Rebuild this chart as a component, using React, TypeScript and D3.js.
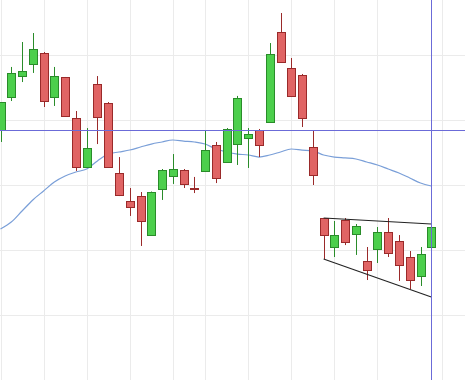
import React from "react";
import * as d3 from "d3";

const W = 465;
const H = 380;

// OHLC values per bar (index = bar number)
const opens = [44.23, 46.77, 48.38, 49.31, 50.15, 46.77, 48.31, 45.15, 41.38, 47.77, 46.31, 40.92, 38.77, 39.15, 36.15, 39.69, 40.69, 41.15, 39.77, 41.08, 43.08, 41.77, 43.15, 43.62, 44.23, 44.85, 51.77, 49.0, 48.46, 42.92, 37.46, 35.23, 37.31, 36.23, 34.15, 35.08, 36.38, 35.69, 34.46, 33.0, 35.23];
const highs = [46.38, 49.08, 51.0, 51.69, 50.23, 49.08, 48.31, 45.69, 44.38, 48.38, 46.38, 42.15, 39.77, 39.46, 39.5, 41.23, 42.38, 41.23, 40.62, 44.23, 43.31, 44.38, 46.85, 44.38, 44.31, 50.92, 53.23, 49.77, 48.54, 44.23, 37.46, 37.23, 37.46, 37.0, 35.23, 36.77, 37.46, 36.15, 34.92, 35.23, 37.0];
const lows = [43.31, 46.46, 47.92, 48.62, 46.0, 46.08, 45.23, 41.08, 41.31, 43.15, 41.31, 39.15, 37.62, 35.31, 36.08, 38.85, 40.08, 39.77, 39.38, 41.0, 40.15, 41.7, 41.54, 41.31, 42.15, 44.8, 49.4, 46.8, 44.46, 40.0, 34.31, 34.46, 35.38, 34.62, 32.69, 34.0, 34.46, 32.62, 32.0, 32.23, 34.62];
const closes = [46.38, 48.62, 48.77, 50.46, 46.46, 48.38, 45.31, 41.38, 42.85, 45.23, 41.38, 39.23, 38.31, 37.23, 39.46, 41.15, 41.23, 40.08, 39.73, 42.69, 40.54, 44.31, 46.69, 43.92, 43.08, 50.08, 49.46, 46.85, 45.15, 40.77, 36.15, 36.15, 35.62, 36.85, 33.46, 36.38, 34.77, 33.85, 32.69, 34.69, 36.77];

// moving average per bar
const maValues = [36.62, 37.15, 38.0, 38.85, 39.54, 40.23, 40.69, 41.0, 41.23, 41.85, 42.38, 42.54, 42.69, 42.92, 43.15, 43.31, 43.46, 43.38, 43.31, 43.15, 42.77, 42.54, 42.38, 42.31, 42.15, 42.31, 42.54, 42.77, 42.69, 42.62, 42.31, 42.15, 42.08, 42.0, 41.77, 41.54, 41.23, 40.92, 40.54, 40.15, 39.92];

// grid
const priceTicks = [50, 45, 40, 35, 30, 25];
const timeTicks = [0, 4, 8, 12, 16, 19, 23, 27, 31, 35, 41];

// trend line drawings: [startIndex, startPrice, endIndex, endPrice]
const trendStartIdx = [30, 30];
const trendStartPrice = [37.46, 34.31];
const trendEndIdx = [40, 40];
const trendEndPrice = [37.0, 31.38];

// crosshair
const crossIdx = 40;
const crossPrice = 44.23;

const UP_FILL = "#4ccf4c";
const UP_STROKE = "#2a8c2a";
const DN_FILL = "#e06464";
const DN_STROKE = "#9a2a2a";

export default function App() {
  const x = d3.scaleLinear().domain([0, 40]).range([0.5, 431.3]);
  const y = d3.scaleLinear().domain([30, 45]).range([315, 120]);
  const bodyW = 7;

  const maLine = d3
    .line<number>()
    .x((_, i) => x(i))
    .y((d) => y(d))
    .curve(d3.curveMonotoneX);

  const crisp = (v: number) => Math.round(v) + 0.5;

  return (
    <svg
      width={W}
      height={H}
      style={{ position: "fixed", left: 0, top: 0, background: "#fff" }}
    >
      <rect x={0} y={0} width={W} height={H} fill="#fff" />
      {priceTicks.map((p) => (
        <line key={"h" + p} x1={0} x2={W} y1={crisp(y(p))} y2={crisp(y(p))} stroke="#ebebeb" strokeWidth={1} />
      ))}
      {timeTicks.map((t) => (
        <line key={"v" + t} y1={0} y2={H} x1={crisp(x(t))} x2={crisp(x(t))} stroke="#ebebeb" strokeWidth={1} />
      ))}
      <path d={maLine(maValues) || ""} fill="none" stroke="#7a9fd8" strokeWidth={1.2} />
      {opens.map((o, i) => {
        const c = closes[i];
        const up = c >= o;
        const cx = Math.round(x(i));
        const top = y(Math.max(o, c));
        const bot = y(Math.min(o, c));
        const stroke = up ? UP_STROKE : DN_STROKE;
        const fill = up ? UP_FILL : DN_FILL;
        const t = Math.round(top) + 0.5;
        const h = Math.max(Math.round(bot) - Math.round(top), 0.01);
        return (
          <g key={i}>
            <line x1={cx + 0.5} x2={cx + 0.5} y1={y(highs[i])} y2={y(lows[i])} stroke={stroke} strokeWidth={1} />
            {h < 1 ? (
              <line x1={cx - bodyW / 2} x2={cx + bodyW / 2 + 1} y1={t} y2={t} stroke={stroke} strokeWidth={1} />
            ) : (
              <rect x={cx - bodyW / 2} y={t} width={bodyW + 1} height={h} fill={fill} stroke={stroke} strokeWidth={1} />
            )}
          </g>
        );
      })}
      {trendStartIdx.map((s, k) => (
        <line
          key={"t" + k}
          x1={x(s)}
          y1={y(trendStartPrice[k])}
          x2={x(trendEndIdx[k])}
          y2={y(trendEndPrice[k])}
          stroke="#222"
          strokeWidth={1.1}
        />
      ))}
      <line x1={0} x2={W} y1={crisp(y(crossPrice))} y2={crisp(y(crossPrice))} stroke="#6b6bd8" strokeWidth={1} />
      <line x1={crisp(x(crossIdx))} x2={crisp(x(crossIdx))} y1={0} y2={H} stroke="#6b6bd8" strokeWidth={1} />
    </svg>
  );
}
